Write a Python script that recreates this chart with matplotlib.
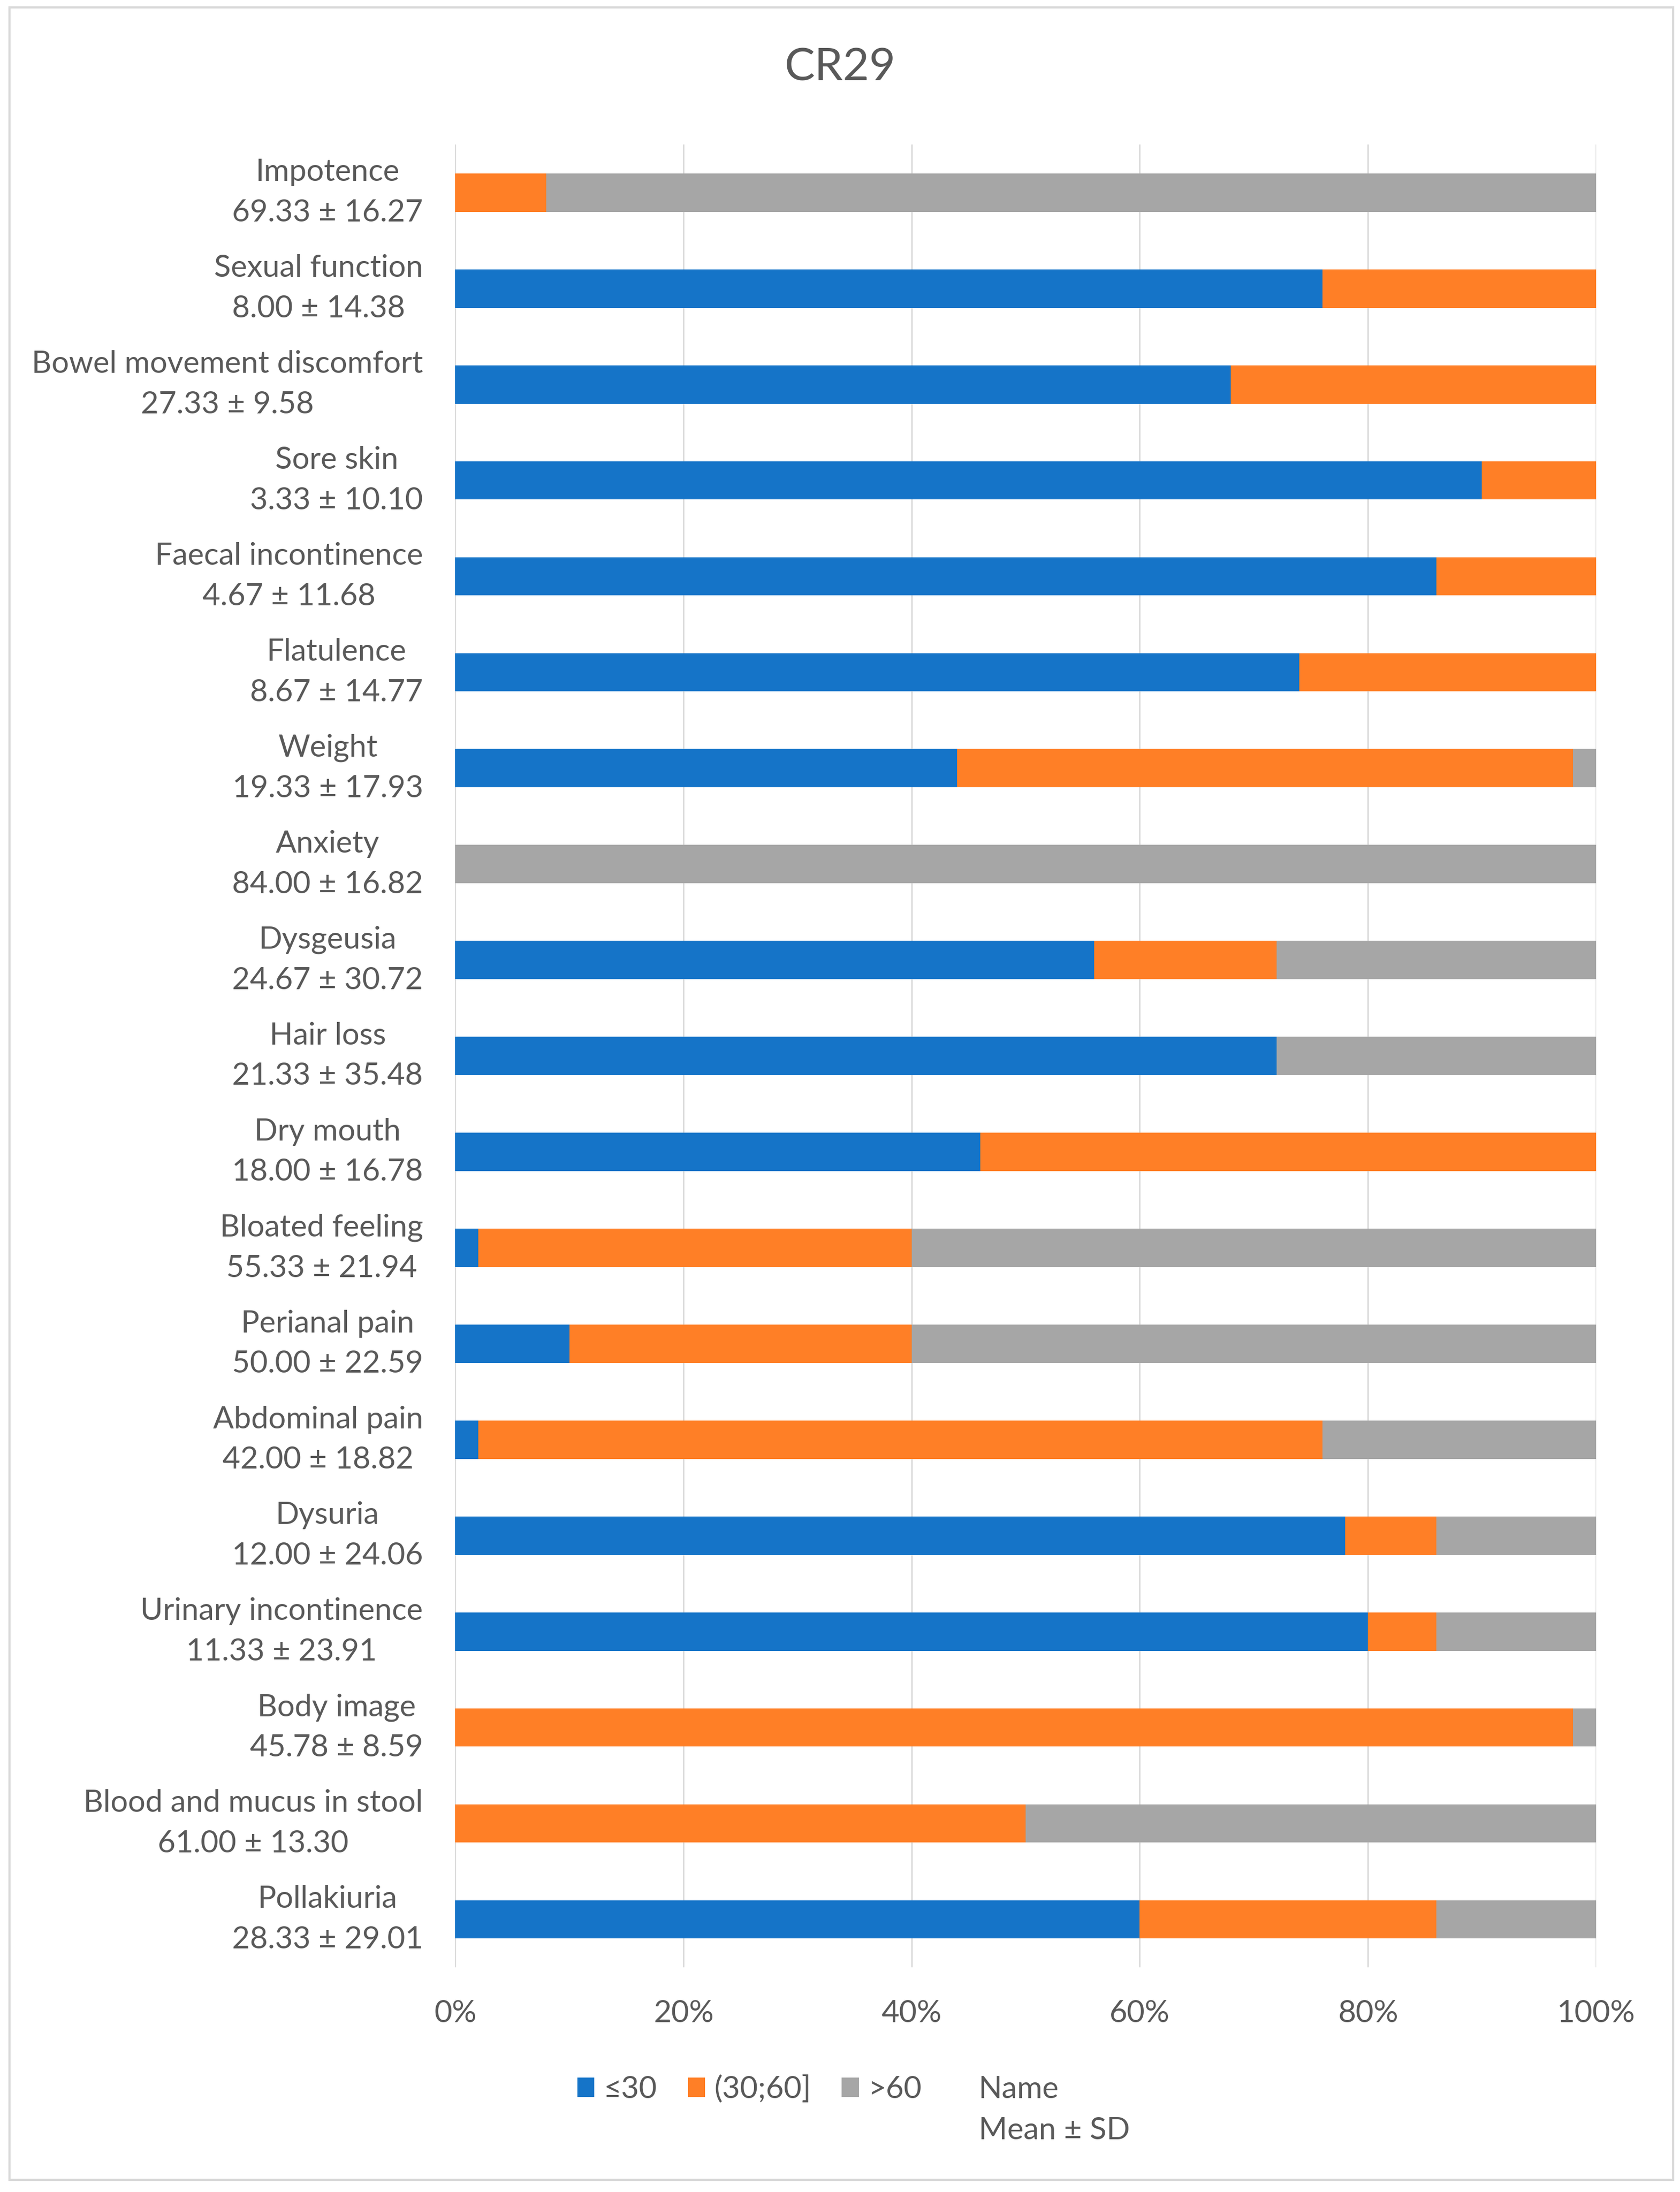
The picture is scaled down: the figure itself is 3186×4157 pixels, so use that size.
import numpy as np
import matplotlib
matplotlib.use('Agg')
from matplotlib import pyplot as plt
from matplotlib.patches import Patch, Rectangle

#---------------------------------DATA----------------------------------------------------------------
names = ['Impotence', 'Sexual function', 'Bowel movement discomfort', 'Sore skin',
         'Faecal incontinence', 'Flatulence', 'Weight', 'Anxiety', 'Dysgeusia', 'Hair loss',
         'Dry mouth', 'Bloated feeling', 'Perianal pain', 'Abdominal pain', 'Dysuria',
         'Urinary incontinence', 'Body image', 'Blood and mucus in stool', 'Pollakiuria']
stats = ['69.33 ± 16.27', '8.00 ± 14.38', '27.33 ± 9.58', '3.33 ± 10.10', '4.67 ± 11.68',
         '8.67 ± 14.77', '19.33 ± 17.93', '84.00 ± 16.82', '24.67 ± 30.72', '21.33 ± 35.48',
         '18.00 ± 16.78', '55.33 ± 21.94', '50.00 ± 22.59', '42.00 ± 18.82', '12.00 ± 24.06',
         '11.33 ± 23.91', '45.78 ± 8.59', '61.00 ± 13.30', '28.33 ± 29.01']
low = [0, 76, 68, 90, 86, 74, 44, 0, 56, 72, 46, 2, 10, 2, 78, 80, 0, 0, 60]
mid = [8, 24, 32, 10, 14, 26, 54, 0, 16, 0, 54, 38, 30, 74, 8, 6, 98, 50, 26]
high = [92, 0, 0, 0, 0, 0, 2, 100, 28, 28, 0, 60, 60, 24, 14, 14, 2, 50, 14]
series_names = ['≤30', '(30;60]', '>60']
colors = ['#1574C8', '#FF7F26', '#A6A6A6']
xticks = [0, 20, 40, 60, 80, 100]

#---------------------------------PLOT----------------------------------------------------------------
plt.rcParams['font.family'] = ['Lato', 'DejaVu Sans']
txt = '#595959'

fig = plt.figure(figsize=(15.93, 20.785), dpi=200)
ax = fig.add_axes([0.271, 0.1025, 0.679, 0.8315])

y = np.arange(len(names))
left = np.zeros(len(names))
for vals, lab, c in zip([low, mid, high], series_names, colors):
    vals = np.array(vals, dtype=float)
    ax.barh(y, vals, left=left, height=0.4, color=c, label=lab, zorder=3)
    left += vals

ax.set_xlim(0, 100)
ax.set_ylim(len(names) - 0.5, -0.5)
ax.set_xticks(xticks)
ax.set_xticklabels([str(t) + '%' for t in xticks])
ax.set_yticks(y)
ax.set_yticklabels([n + '\n' + s for n, s in zip(names, stats)])
for t in ax.get_yticklabels():
    t.set_multialignment('center')
    t.set_linespacing(1.55)
    t.set_verticalalignment('center')
ax.tick_params(axis='both', length=0, labelsize=21, labelcolor=txt)
ax.tick_params(axis='y', pad=22)
ax.tick_params(axis='x', pad=22)
ax.grid(axis='x', color='#D9D9D9', linewidth=1.0, zorder=0)
for s in ax.spines.values():
    s.set_visible(False)

fig.text(0.5, 0.969, 'CR29', ha='center', va='center', fontsize=31, color=txt)

# legend, last entry only text
handles, labels = ax.get_legend_handles_labels()
handles.append(Patch(facecolor='none', edgecolor='none'))
labels.append('Name')
leg = fig.legend(handles, labels, loc='upper center', bbox_to_anchor=(0.487, 0.066),
                 ncol=4, frameon=False, fontsize=21, handlelength=0.55, handleheight=0.6,
                 handletextpad=0.3, columnspacing=1.0, labelcolor=txt)
fig.canvas.draw()
ax.annotate('Mean ± SD', xy=(0, 0), xycoords=leg.get_texts()[3], xytext=(0, -9),
            textcoords='offset points', ha='left', va='top', fontsize=21, color=txt,
            annotation_clip=False)

# chart border
fig.patches.append(Rectangle((18 / 3186, 1 - 4134 / 4157), 3155 / 3186, 4120 / 4157,
                             transform=fig.transFigure, fill=False, edgecolor='#D9D9D9',
                             linewidth=1.5))

fig.savefig('out.png', dpi=200, facecolor='white')
